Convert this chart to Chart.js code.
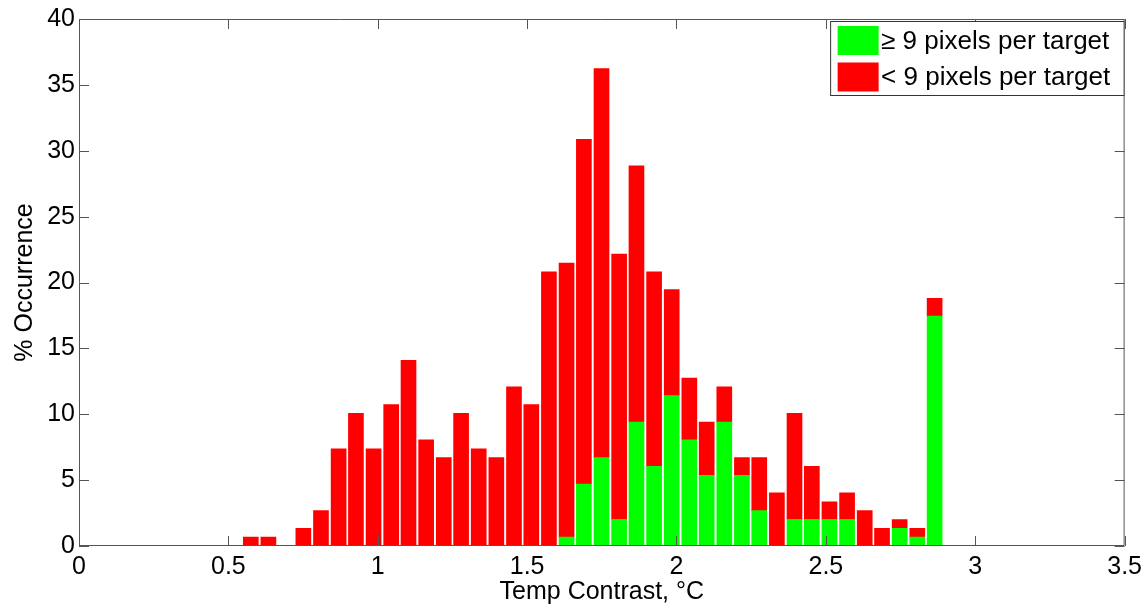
<!DOCTYPE html>
<html>
<head>
<meta charset="utf-8">
<script src="https://cdn.jsdelivr.net/npm/chart.js@4.4.1/dist/chart.umd.min.js"></script>
<style>
  html, body { margin: 0; padding: 0; background: #fff; }
  #wrap { width: 1148px; height: 607px; position: relative; }
</style>
</head>
<body>
<div id="wrap"><canvas id="chart"></canvas></div>
<script>
// bin centres (temp contrast, degC)
const binCenters = [
  0.575, 0.634, 0.692, 0.751, 0.810, 0.869, 0.927, 0.986, 1.045, 1.103,
  1.162, 1.221, 1.279, 1.338, 1.397, 1.456, 1.514, 1.573, 1.632, 1.690,
  1.749, 1.808, 1.866, 1.925, 1.984, 2.043, 2.101, 2.160, 2.219, 2.277,
  2.336, 2.395, 2.453, 2.512, 2.571, 2.630, 2.688, 2.747, 2.806, 2.864,
];
// >= 9 pixels per target (bottom segment)
const bigTargets = [
  0, 0, 0, 0, 0, 0, 0, 0, 0, 0,
  0, 0, 0, 0, 0, 0, 0, 0, 0.67, 4.70,
  6.71, 2.01, 9.40, 6.04, 11.41, 8.05, 5.37, 9.40, 5.37, 2.68,
  0, 2.01, 2.01, 2.01, 2.01, 0, 0, 1.34, 0.67, 17.45,
];
// < 9 pixels per target (stacked on top)
const smallTargets = [
  0.67, 0.67, 0, 1.34, 2.68, 7.38, 10.07, 7.38, 10.74, 14.09,
  8.05, 6.71, 10.07, 7.38, 6.71, 12.08, 10.74, 20.81, 20.81, 26.17,
  29.53, 20.14, 19.46, 14.77, 8.05, 4.70, 4.03, 2.68, 1.34, 4.03,
  4.03, 8.06, 4.03, 1.35, 2.02, 2.68, 1.34, 0.67, 0.67, 1.34,
];
const xTickValues = [0, 0.5, 1, 1.5, 2, 2.5, 3, 3.5];
const yTickValues = [0, 5, 10, 15, 20, 25, 30, 35, 40];

const GREEN = "#00ff00";
const RED = "#ff0000";
const AXIS_COLOR = "#555555";
const TICK_LEN = 10;
const FONT_FAMILY = "'Liberation Sans', Arial, sans-serif";

Chart.defaults.font.family = FONT_FAMILY;
Chart.defaults.color = "#000";

function toPoints(values) {
  return values.map((v, i) => ({ x: binCenters[i], y: v }));
}

// MATLAB-style box with inward ticks on all four sides
const framePlugin = {
  id: "frame",
  afterDatasetsDraw(chart) {
    const { ctx, chartArea: a, scales: { x, y } } = chart;
    ctx.save();
    ctx.strokeStyle = AXIS_COLOR;
    ctx.lineWidth = 1;
    ctx.beginPath();
    ctx.rect(a.left + 0.5, a.top + 0.5, a.right - a.left - 1, a.bottom - a.top - 1);
    x.ticks.forEach((t) => {
      const px = Math.round(x.getPixelForValue(t.value)) + 0.5;
      ctx.moveTo(px, a.bottom);
      ctx.lineTo(px, a.bottom - TICK_LEN);
      ctx.moveTo(px, a.top);
      ctx.lineTo(px, a.top + TICK_LEN);
    });
    y.ticks.forEach((t) => {
      const py = Math.round(y.getPixelForValue(t.value)) + 0.5;
      ctx.moveTo(a.left, py);
      ctx.lineTo(a.left + TICK_LEN, py);
      ctx.moveTo(a.right, py);
      ctx.lineTo(a.right - TICK_LEN, py);
    });
    ctx.stroke();
    ctx.restore();
  },
};

// boxed legend in the upper right corner of the plot
const legendBoxPlugin = {
  id: "legendBox",
  afterDraw(chart) {
    const { ctx, chartArea: a } = chart;
    const w = 294.5;
    const h = 75;
    const left = a.right - w;
    const top = a.top + 2;
    ctx.save();
    ctx.fillStyle = "#fff";
    ctx.fillRect(left, top, w, h);
    ctx.strokeStyle = "#333";
    ctx.lineWidth = 1;
    ctx.strokeRect(left + 0.5, top + 0.5, w - 1, h - 1);
    ctx.font = "26px " + FONT_FAMILY;
    ctx.textBaseline = "middle";
    ctx.textAlign = "left";
    chart.data.datasets.forEach((ds, i) => {
      const cy = top + 19.5 + i * 36.5;
      ctx.fillStyle = ds.backgroundColor;
      ctx.fillRect(left + 7.5, cy - 14.5, 41, 29);
      ctx.fillStyle = "#000";
      ctx.fillText(ds.label, left + 51, cy + 1);
    });
    ctx.restore();
  },
};

new Chart(document.getElementById("chart").getContext("2d"), {
  type: "bar",
  data: {
    datasets: [
      {
        label: "\u2265 9 pixels per target",
        data: toPoints(bigTargets),
        backgroundColor: GREEN,
        borderWidth: 0,
        barThickness: 15,
      },
      {
        label: "< 9 pixels per target",
        data: toPoints(smallTargets),
        backgroundColor: RED,
        borderWidth: 0,
        barThickness: 15,
      },
    ],
  },
  options: {
    responsive: true,
    maintainAspectRatio: false,
    animation: false,
    layout: { padding: { top: 17, right: 22, bottom: 0, left: 0 } },
    plugins: {
      legend: { display: false },
      tooltip: { enabled: false },
    },
    scales: {
      x: {
        type: "linear",
        stacked: true,
        offset: false,
        min: 0,
        max: 3.5,
        afterBuildTicks: (scale) => { scale.ticks = xTickValues.map((v) => ({ value: v })); },
        afterFit: (scale) => { scale.height = 61; },
        ticks: {
          font: { size: 25 },
          padding: 6,
          maxRotation: 0,
          autoSkip: false,
          color: "#000",
          callback: (v) => String(v),
        },
        grid: { display: false, drawTicks: false, offset: false },
        border: { display: false },
        title: {
          display: true,
          text: "Temp Contrast, \u00b0C",
          font: { size: 25 },
          color: "#000",
          padding: { top: 0, bottom: 0 },
        },
      },
      y: {
        stacked: true,
        min: 0,
        max: 40,
        afterBuildTicks: (scale) => { scale.ticks = yTickValues.map((v) => ({ value: v })); },
        afterFit: (scale) => { scale.width = 79; },
        ticks: {
          font: { size: 25 },
          padding: 4,
          color: "#000",
          callback: (v) => String(v),
        },
        grid: { display: false, drawTicks: false },
        border: { display: false },
        title: {
          display: true,
          text: "% Occurrence",
          font: { size: 25 },
          color: "#000",
          padding: { top: 10, bottom: 0 },
        },
      },
    },
  },
  plugins: [framePlugin, legendBoxPlugin],
});
</script>
</body>
</html>
